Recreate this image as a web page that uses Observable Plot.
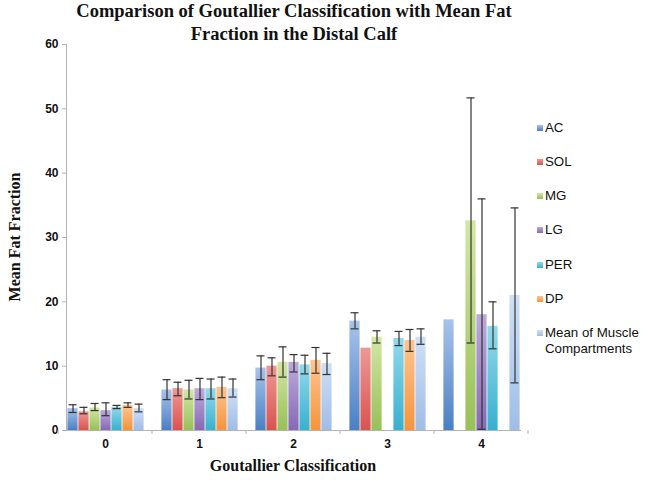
<!DOCTYPE html>
<html><head><meta charset="utf-8">
<script src="https://cdn.jsdelivr.net/npm/d3@7"></script>
<script src="https://cdn.jsdelivr.net/npm/@observablehq/plot@0.6"></script>
<style>
body{margin:0;background:#fff;}
#wrap{position:relative;width:645px;height:480px;overflow:hidden;}
#title{position:absolute;left:0;top:0;width:588px;text-align:center;font:bold 18.5px "Liberation Serif","Times New Roman",serif;line-height:23px;color:#111;}
#ylab{position:absolute;left:15px;top:237px;transform:translate(-50%,-50%) rotate(-90deg);white-space:nowrap;font:bold 16px "Liberation Serif","Times New Roman",serif;color:#111;}
#xlab{position:absolute;left:293px;top:466px;transform:translate(-50%,-50%);white-space:nowrap;font:bold 16px "Liberation Serif","Times New Roman",serif;color:#111;}
#legend{position:absolute;left:537px;top:0;font:13.3px "Liberation Sans",Arial,sans-serif;color:#111;}
.li{position:absolute;left:0;white-space:nowrap;line-height:16px;}
.sw{position:absolute;left:0;top:5px;width:6px;height:6px;}
.lt{position:absolute;left:8px;top:0;}
#chart{position:absolute;left:0;top:0;}
</style>
</head><body>
<div id="wrap">
  <div id="chart"></div>
  <div id="title">Comparison of Goutallier Classification with Mean Fat<br>Fraction in the Distal Calf</div>
  <div id="ylab">Mean Fat Fraction</div>
  <div id="xlab">Goutallier Classification</div>
  <div id="legend"></div>
</div>
<script>
// Categories
const groups = ["0", "1", "2", "3", "4"];
const series = ["AC", "SOL", "MG", "LG", "PER", "DP", "Mean of Muscle Compartments"];
const yTicks = [0, 10, 20, 30, 40, 50, 60];

// Mean values per series across groups 0..4
const AC   = [3.4, 6.3, 9.7, 17.0, 17.2];
const SOL  = [2.9, 6.5, 10.0, 12.8, null];
const MG   = [3.5, 6.3, 10.6, 14.5, 32.6];
const LG   = [3.1, 6.5, 10.6, null, 18.0];
const PER  = [3.6, 6.5, 10.2, 14.3, 16.2];
const DP   = [3.9, 6.7, 10.9, 14.0, null];
const MEAN = [3.4, 6.5, 10.4, 14.5, 21.0];

// Error bar lower / upper ends
const AC_lo   = [2.8, 4.8, 7.9, 15.8, null];
const AC_hi   = [4.0, 7.9, 11.6, 18.3, null];
const SOL_lo  = [2.6, 5.4, 8.5, null, null];
const SOL_hi  = [3.6, 7.5, 11.3, null, null];
const MG_lo   = [3.1, 4.9, 8.3, 13.6, 13.6];
const MG_hi   = [4.2, 7.8, 13.0, 15.5, 51.7];
const LG_lo   = [2.3, 4.8, 9.1, null, 0.2];
const LG_hi   = [4.3, 8.1, 11.8, null, 36.0];
const PER_lo  = [3.4, 4.9, 8.8, 13.2, 12.7];
const PER_hi  = [3.9, 8.0, 11.7, 15.4, 20.0];
const DP_lo   = [3.6, 5.1, 8.9, 12.3, null];
const DP_hi   = [4.3, 8.3, 12.9, 15.7, null];
const MEAN_lo = [2.9, 5.2, 8.7, 13.4, 7.4];
const MEAN_hi = [4.1, 8.0, 12.0, 15.8, 34.6];

// Colours (gradient top / bottom)
const colTop = ["#a9c3ea", "#ee9895", "#d2e7a4", "#bcaadc", "#93d9ea", "#fdc592", "#cfe0f6"];
const colBot = ["#4a7fc4", "#d9534f", "#98c058", "#8669b3", "#38b0ce", "#f5943c", "#a0bde6"];

const vals = [AC, SOL, MG, LG, PER, DP, MEAN];
const los = [AC_lo, SOL_lo, MG_lo, LG_lo, PER_lo, DP_lo, MEAN_lo];
const his = [AC_hi, SOL_hi, MG_hi, LG_hi, PER_hi, DP_hi, MEAN_hi];

const rows = [];
const errs = [];
series.forEach((s, i) => {
  groups.forEach((g, j) => {
    if (vals[i][j] != null) rows.push({group: g, series: s, value: vals[i][j]});
    if (los[i][j] != null && his[i][j] != null) errs.push({group: g, series: s, lo: los[i][j], hi: his[i][j]});
  });
});

const chart = Plot.plot({
  width: 645, height: 480,
  marginTop: 44, marginBottom: 50, marginLeft: 58, marginRight: 117,
  style: {fontFamily: "'Liberation Sans', Arial, sans-serif", background: "transparent"},
  fx: {domain: groups, paddingInner: 0.17, paddingOuter: 0.085, label: null, axis: null},
  x: {domain: series, padding: 0, axis: null},
  y: {domain: [0, 60], label: null, axis: null},
  color: {domain: series, range: series.map((s, i) => `url(#grad${i})`)},
  marks: [
    Plot.frame({anchor: "left", facet: "super", stroke: "#b4b4b4"}),
    Plot.frame({anchor: "bottom", facet: "super", stroke: "#b4b4b4"}),
    Plot.axisY({ticks: yTicks, tickSize: 4, tickPadding: 4, stroke: "#b4b4b4", fill: "#111", fontWeight: "bold", fontSize: 12, label: null}),
    Plot.axisFx({anchor: "bottom", tickSize: 0, tickPadding: 9, fill: "#111", fontWeight: "bold", fontSize: 12, label: null}),
    Plot.barY(rows, {fx: "group", x: "series", y: "value", fill: "series", insetLeft: 0.4, insetRight: 0.4}),
    Plot.ruleX(errs, {fx: "group", x: "series", y1: "lo", y2: "hi", stroke: "#333", strokeWidth: 1.2}),
    Plot.tickY(errs, {fx: "group", x: "series", y: "lo", stroke: "#333", strokeWidth: 1.2, insetLeft: 1.5, insetRight: 1.5}),
    Plot.tickY(errs, {fx: "group", x: "series", y: "hi", stroke: "#333", strokeWidth: 1.2, insetLeft: 1.5, insetRight: 1.5})
  ]
});

// gradients
const svg = d3.select(chart);
const defs = svg.insert("defs", ":first-child");
series.forEach((s, i) => {
  const lg = defs.append("linearGradient").attr("id", `grad${i}`).attr("x1", 0).attr("y1", 0).attr("x2", 0).attr("y2", 1);
  lg.append("stop").attr("offset", "0%").attr("stop-color", colTop[i]);
  lg.append("stop").attr("offset", "100%").attr("stop-color", colBot[i]);
});

// category boundary ticks from the fx scale
const fxs = chart.scale("fx");
const ys = chart.scale("y");
const y0 = ys.apply(0);
const half = (fxs.step - fxs.bandwidth) / 2;
const bounds = groups.map(g => fxs.apply(g) - half);
bounds.push(fxs.apply(groups[groups.length - 1]) + fxs.bandwidth + half);
svg.append("g").selectAll("line").data(bounds).join("line")
  .attr("x1", d => d).attr("x2", d => d).attr("y1", y0).attr("y2", y0 + 4)
  .attr("stroke", "#b4b4b4");

document.getElementById("chart").appendChild(chart);

// legend
const legendY = [120, 154, 188, 222, 257, 291, 325];
const leg = document.getElementById("legend");
series.forEach((s, i) => {
  const d = document.createElement("div");
  d.className = "li";
  d.style.top = legendY[i] + "px";
  const sw = document.createElement("div");
  sw.className = "sw";
  sw.style.background = `linear-gradient(${colTop[i]}, ${colBot[i]})`;
  const t = document.createElement("div");
  t.className = "lt";
  t.innerHTML = s === "Mean of Muscle Compartments" ? "Mean of Muscle<br>Compartments" : s;
  d.appendChild(sw); d.appendChild(t);
  leg.appendChild(d);
});
</script>
</body></html>
